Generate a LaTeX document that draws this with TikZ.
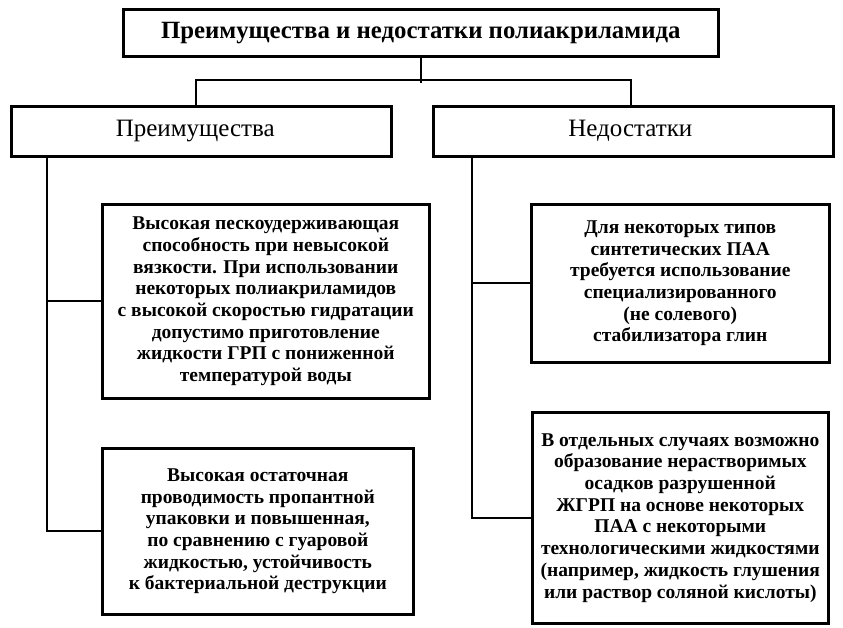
\documentclass[tikz,border=0pt]{standalone}
\usepackage{fontspec}
\setmainfont{Liberation Serif}
\begin{document}
\begin{tikzpicture}[x=1pt,y=-1pt,
  box/.style={draw, line width=2.6pt, anchor=north west, inner sep=0pt, align=center},
  bodytext/.style={font=\fontsize{19.5}{21.7}\selectfont\bfseries},
  headtext/.style={font=\fontsize{25}{28}\selectfont, text height=17pt, text depth=6pt},
  conn/.style={line width=1.8pt}]
\useasboundingbox (0,0) rectangle (843,628);
\fill[white] (0,0) rectangle (843,628);
\node[box, minimum width=595pt, minimum height=47pt, font=\fontsize{24.8}{28}\selectfont\bfseries] (title) at (122,8) {Преимущества и недостатки полиакриламида};
\node[box, headtext, minimum width=380pt, minimum height=50pt] (pre) at (10,105) {\makebox[0pt]{\hspace*{-12pt}Преимущества}};
\node[box, headtext, minimum width=400pt, minimum height=50pt] (ned) at (432,105) {\makebox[0pt]{\hspace*{-6pt}Недостатки}};
\node[box, bodytext, minimum width=327pt, minimum height=194pt] (L1) at (101,203) {Высокая пескоудерживающая\\способность при невысокой\\вязкости. При использовании\\некоторых полиакриламидов\\с высокой скоростью гидратации\\допустимо приготовление\\жидкости ГРП с пониженной\\температурой воды};
\node[box, bodytext, minimum width=311pt, minimum height=166pt] (L2) at (101,447) {Высокая остаточная\\проводимость пропантной\\упаковки и повышенная,\\по сравнению с гуаровой\\жидкостью, устойчивость\\к бактериальной деструкции};
\node[box, bodytext, minimum width=298pt, minimum height=158pt] (R1) at (530,203) {Для некоторых типов\\синтетических ПАА\\требуется использование\\специализированного\\(не солевого)\\стабилизатора глин};
\node[box, bodytext, minimum width=296pt, minimum height=211pt] (R2) at (531,411) {В отдельных случаях возможно\\образование нерастворимых\\осадков разрушенной\\ЖГРП на основе некоторых\\ПАА с некоторыми\\технологическими жидкостями\\(например, жидкость глушения\\или раствор соляной кислоты)};
\draw[conn] (title.south) -- ++(0,25);
\draw[conn] ([xshift=-5pt]pre.north) -- ++(0,-25) -| ([xshift=-2pt]ned.north);
\coordinate (ls) at ([xshift=37pt]pre.south west);
\coordinate (rs) at ([xshift=40pt]ned.south west);
\draw[conn] (ls) |- (L2.west);
\draw[conn] (L1.west) -- (L1.west -| ls);
\draw[conn] (rs) |- (R2.west);
\draw[conn] (R1.west) -- (R1.west -| rs);
\end{tikzpicture}
\end{document}
